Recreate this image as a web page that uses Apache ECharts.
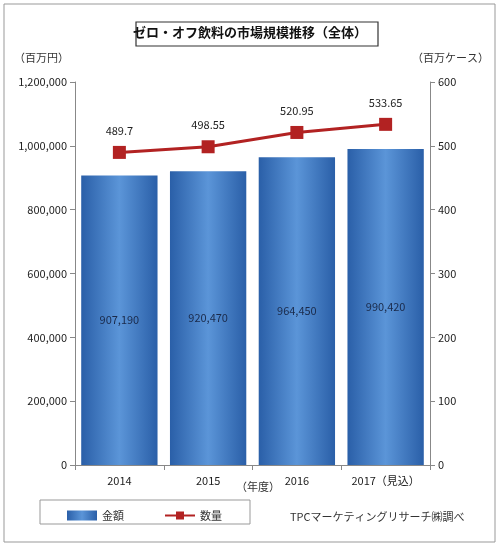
<!DOCTYPE html>
<html><head><meta charset="utf-8">
<script src="https://cdn.jsdelivr.net/npm/echarts@6/dist/echarts.min.js"></script>
<style>html,body{margin:0;padding:0;background:#fff}#c{width:500px;height:548px}</style>
</head><body><div id="c"></div>
<script>
const categories = ['2014','2015','2016','2017（見込）'];
const amountValues = [907190, 920470, 964450, 990420];
const volumeValues = [489.7, 498.55, 520.95, 533.65];
const leftTicks = {min:0, max:1200000, interval:200000};
const rightTicks = {min:0, max:600, interval:100};
const font = '"Noto Sans CJK JP", sans-serif';
const chart = echarts.init(document.getElementById('c'));
chart.setOption({
  animation:false,
  textStyle:{fontFamily:font},
  graphic:[
    {type:'rect',shape:{x:4,y:4,width:491,height:538},style:{fill:'none',stroke:'#999',lineWidth:1}},
    {type:'rect',shape:{x:136,y:22,width:242,height:24},style:{fill:'#fff',stroke:'#333',lineWidth:1.2}},
    {type:'text',left:'center',top:26,style:{text:'ゼロ・オフ飲料の市場規模推移（全体）',font:'bold 13px '+font,fill:'#111'}},
    {type:'text',left:14,top:52,style:{text:'（百万円）',font:'11px '+font,fill:'#333'}},
    {type:'text',left:412,top:52,style:{text:'（百万ケース）',font:'11px '+font,fill:'#333'}},
    {type:'text',left:236,top:481,style:{text:'（年度）',font:'11px '+font,fill:'#333'}},
    {type:'rect',shape:{x:40,y:500,width:210,height:24},style:{fill:'none',stroke:'#999',lineWidth:1}},
    {type:'text',left:290,top:511,style:{text:'TPCマーケティングリサーチ㈱調べ',font:'11px '+font,fill:'#333'}}
  ],
  legend:{left:62,top:505,itemGap:40,itemWidth:30,itemHeight:10,textStyle:{fontSize:11,color:'#333'},
    data:[{name:'金額',icon:'rect'},{name:'数量'}]},
  grid:{left:75,right:70,top:82,bottom:83},
  xAxis:{type:'category',data:categories,axisTick:{show:true,alignWithLabel:false},
    axisLine:{lineStyle:{color:'#888'}},axisLabel:{color:'#222',fontSize:11,margin:10,interval:0}},
  yAxis:[
    {type:'value',...leftTicks,axisLine:{show:true,lineStyle:{color:'#888'}},axisTick:{show:true},
     splitLine:{show:false},axisLabel:{color:'#222',fontSize:11,formatter:v=>v.toLocaleString('en-US')}},
    {type:'value',...rightTicks,axisLine:{show:true,lineStyle:{color:'#888'}},axisTick:{show:true},
     splitLine:{show:false},axisLabel:{color:'#222',fontSize:11}}
  ],
  series:[
    {name:'金額',type:'bar',data:amountValues,barWidth:'86%',
     itemStyle:{color:new echarts.graphic.LinearGradient(0,0,1,0,[{offset:0,color:'#2a5fa8'},{offset:0.5,color:'#5b95d8'},{offset:1,color:'#2a5fa8'}])},
     label:{show:true,position:'inside',color:'#1a2a4a',fontSize:11,formatter:p=>p.value.toLocaleString('en-US')}},
    {name:'数量',type:'line',yAxisIndex:1,data:volumeValues,symbol:'rect',symbolSize:13,
     lineStyle:{color:'#b22222',width:3},itemStyle:{color:'#b22222'},
     label:{show:true,position:'top',distance:10,color:'#222',fontSize:11}}
  ]
});
</script></body></html>
